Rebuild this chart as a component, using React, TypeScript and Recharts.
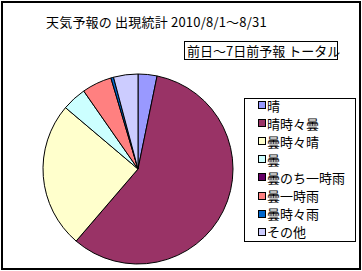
import React from 'react';
import { PieChart, Pie, Cell } from 'recharts';

// 217 forecasts = 31 days x 7 lead days
const categories = ['晴', '晴時々曇', '曇時々晴', '曇', '曇のち一時雨', '曇一時雨', '曇時々雨', 'その他'];
const counts = [7, 126, 54, 9, 0, 11, 1, 9];
const colors = ['#9999FF', '#993366', '#FFFFCC', '#CCFFFF', '#660066', '#FF8080', '#0066CC', '#CCCCFF'];

const title = '天気予報の 出現統計 2010/8/1～8/31';
const subtitle = '前日～7日前予報 トータル';

const data = categories.map((name, i) => ({ name, value: counts[i] }));

const FONT = '"Noto Sans CJK JP", sans-serif';

function ChartLegend() {
  return (
    <div
      style={{
        position: 'absolute',
        left: 244,
        top: 98,
        width: 112,
        height: 144,
        border: '1px solid #000',
        boxSizing: 'border-box',
        background: '#fff',
      }}
    >
      {categories.map((name, i) => (
        <div
          key={name}
          style={{
            position: 'absolute',
            left: 13,
            top: -3 + i * 18.1,
            height: 18,
            display: 'flex',
            alignItems: 'center',
            fontSize: 13,
            color: '#000',
            whiteSpace: 'nowrap',
          }}
        >
          <span
            style={{
              display: 'inline-block',
              width: 6,
              height: 6,
              background: colors[i],
              border: '1px solid #000',
              marginRight: 1,
            }}
          />
          {name}
        </div>
      ))}
    </div>
  );
}

export default function App() {
  return (
    <div
      style={{
        position: 'absolute',
        left: 0,
        top: 0,
        width: 362,
        height: 271,
        background: '#fff',
        fontFamily: FONT,
      }}
    >
      <div
        style={{
          position: 'absolute',
          left: 1,
          top: 1,
          width: 360,
          height: 269,
          border: '2px solid #000',
          boxSizing: 'border-box',
        }}
      />
      <div
        style={{
          position: 'absolute',
          left: 46,
          top: 13,
          fontSize: 13,
          lineHeight: '18px',
          letterSpacing: 0.2,
          whiteSpace: 'nowrap',
          color: '#000',
        }}
      >
        {title}
      </div>
      <div
        style={{
          position: 'absolute',
          left: 184,
          top: 41,
          width: 154,
          height: 19,
          border: '1px solid #000',
          boxSizing: 'border-box',
          fontSize: 13,
          lineHeight: '17px',
          paddingLeft: 2,
          whiteSpace: 'nowrap',
          color: '#000',
        }}
      >
        {subtitle}
      </div>
      <PieChart width={362} height={271} style={{ position: 'absolute', left: 0, top: 0 }}>
        <Pie
          data={data}
          dataKey="value"
          nameKey="name"
          cx={133}
          cy={164}
          outerRadius={95}
          startAngle={90}
          endAngle={-270}
          stroke="#000"
          strokeWidth={1}
          isAnimationActive={false}
        >
          {data.map((d, i) => (
            <Cell key={d.name} fill={colors[i]} />
          ))}
        </Pie>
      </PieChart>
      <ChartLegend />
    </div>
  );
}
